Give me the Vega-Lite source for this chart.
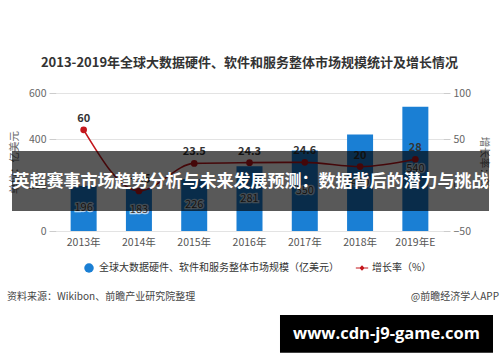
{
  "$schema": "https://vega.github.io/schema/vega-lite/v6.json",
  "width": 387,
  "height": 138,
  "autosize": {"type": "none"},
  "padding": {"left": 56, "top": 93, "right": 57, "bottom": 131},
  "background": "white",
  "title": {
    "text": "2013-2019年全球大数据硬件、软件和服务整体市场规模统计及增长情况",
    "fontSize": 13,
    "fontWeight": "bold",
    "color": "#333333",
    "font": "Noto Sans CJK SC",
    "anchor": "middle",
    "offset": 18
  },
  "datasets": {
    "main": [
      {"year": "2013年", "size": 196, "growth": 60},
      {"year": "2014年", "size": 183, "growth": -6.5},
      {"year": "2015年", "size": 226, "growth": 23.5},
      {"year": "2016年", "size": 281, "growth": 24.3},
      {"year": "2017年", "size": 350, "growth": 24.6},
      {"year": "2018年", "size": 420, "growth": 20},
      {"year": "2019年E", "size": 540, "growth": 28}
    ],
    "overlay": [
      {"kind": "bannerBox", "x": -0.1137, "x2": 1.1189, "y": 87, "y2": 348},
      {"kind": "markBox", "x": 0.5788, "x2": 1.1292, "y": -365, "y2": -529},
      {"kind": "bannerText", "x": 0.5026, "y": 213, "label": "英超赛事市场趋势分析与未来发展预测：数据背后的潜力与挑战"},
      {"kind": "markText", "x": 0.854, "y": -447, "label": "www.cdn-j9-game.com"},
      {"kind": "sourceL", "x": -0.1266, "y": -287, "label": "资料来源：Wikibon、前瞻产业研究院整理"},
      {"kind": "sourceR", "x": 1.1447, "y": -287, "label": "@前瞻经济学人APP"}
    ]
  },
  "layer": [
    {
      "data": {"name": "main"},
      "layer": [
        {
          "mark": {"type": "bar", "width": 26, "color": "#1a7fd4"},
          "encoding": {
            "x": {
              "field": "year", "type": "nominal", "sort": null,
              "axis": {"title": null, "labelAngle": 0, "ticks": false, "domain": false, "labelPadding": 6, "labelFontSize": 10.5, "labelColor": "#555555", "labelFont": "Noto Sans CJK SC"}
            },
            "y": {
              "field": "size", "type": "quantitative",
              "scale": {"domain": [0, 600], "nice": false},
              "axis": {"orient": "left", "values": [0, 200, 400, 600], "grid": true, "gridColor": "#e3e3e3", "domain": false, "tickSize": 7, "tickColor": "#cccccc", "labelColor": "#666666", "labelFontSize": 10.5, "labelPadding": 3, "title": "单位：亿美元", "titleFont": "Noto Sans CJK SC", "titleFontSize": 10.5, "titleFontWeight": "normal", "titleColor": "#666666", "titlePadding": 9}
            },
            "color": {
              "datum": "全球大数据硬件、软件和服务整体市场规模（亿美元）",
              "scale": {"domain": ["全球大数据硬件、软件和服务整体市场规模（亿美元）", "增长率（%）"], "range": ["#1a7fd4", "#c4161c"]},
              "legend": {
                "title": null, "orient": "none", "direction": "horizontal", "legendX": 28, "legendY": 170,
                "symbolType": "circle", "symbolSize": 90, "symbolStrokeWidth": 0,
                "labelFontSize": 10, "labelColor": "#333333", "labelFont": "Noto Sans CJK SC", "labelLimit": 400, "columnPadding": 16, "labelOffset": 5,
                "encode": {"symbols": {"update": {"shape": {"signal": "datum.value === '增长率（%）' ? 'M-1.3,-0.12H-0.45L0,-0.6L0.45,-0.12H1.3V0.12H0.45L0,0.6L-0.45,0.12H-1.3Z' : 'circle'"}}}}
              }
            }
          }
        },
        {
          "mark": {"type": "text", "fontSize": 11, "stroke": "white", "strokeWidth": 2.5, "strokeOpacity": 0.7, "fill": "white", "baseline": "middle"},
          "encoding": {
            "x": {"field": "year", "type": "nominal", "sort": null},
            "y": {"field": "size", "type": "quantitative", "scale": {"domain": [0, 1200], "nice": false}, "axis": null},
            "text": {"field": "size", "type": "quantitative"}
          }
        },
        {
          "mark": {"type": "text", "fontSize": 11, "color": "#333333", "baseline": "middle"},
          "encoding": {
            "x": {"field": "year", "type": "nominal", "sort": null},
            "y": {"field": "size", "type": "quantitative", "scale": {"domain": [0, 1200], "nice": false}, "axis": null},
            "text": {"field": "size", "type": "quantitative"}
          }
        },
        {
          "layer": [
            {
              "mark": {"type": "line", "color": "#a31b2a", "strokeWidth": 1.6, "interpolate": "monotone"},
              "encoding": {"color": {"datum": "增长率（%）"}}
            },
            {
              "mark": {"type": "point", "filled": true, "size": 45, "opacity": 1},
              "encoding": {"color": {"datum": "增长率（%）"}}
            },
            {
              "mark": {"type": "text", "dy": -11, "fontSize": 11, "fontWeight": "bold", "color": "#333333"},
              "encoding": {"text": {"field": "growth", "type": "quantitative"}}
            }
          ],
          "encoding": {
            "x": {"field": "year", "type": "nominal", "sort": null},
            "y": {
              "field": "growth", "type": "quantitative",
              "scale": {"domain": [-50, 100], "nice": false},
              "axis": {"orient": "right", "values": [-50, 0, 50, 100], "grid": false, "domain": false, "tickSize": 7, "tickColor": "#cccccc", "labelColor": "#666666", "labelFontSize": 10.5, "labelPadding": 3, "title": "增长率：%", "titleAngle": 90, "titleFont": "Noto Sans CJK SC", "titleFontSize": 10.5, "titleFontWeight": "normal", "titleColor": "#666666", "titlePadding": 8}
            }
          }
        }
      ],
      "resolve": {"scale": {"y": "independent"}}
    },
    {
      "data": {"name": "overlay"},
      "encoding": {
        "x": {"field": "x", "type": "quantitative", "scale": {"domain": [0, 1], "nice": false, "zero": false}, "axis": null},
        "y": {"field": "y", "type": "quantitative", "scale": {"domain": [0, 600], "nice": false, "zero": false}, "axis": null}
      },
      "layer": [
        {
          "transform": [{"filter": "datum.kind === 'bannerBox'"}],
          "mark": {"type": "rect", "fill": "black", "fillOpacity": 0.65},
          "encoding": {"x2": {"field": "x2"}, "y2": {"field": "y2"}}
        },
        {
          "transform": [{"filter": "datum.kind === 'markBox'"}],
          "mark": {"type": "rect", "fill": "black"},
          "encoding": {"x2": {"field": "x2"}, "y2": {"field": "y2"}}
        },
        {
          "transform": [{"filter": "datum.kind === 'bannerText'"}],
          "mark": {"type": "text", "fontSize": 17, "fontWeight": "bold", "color": "white", "font": "Noto Sans CJK SC", "align": "center", "baseline": "middle"},
          "encoding": {"text": {"field": "label"}}
        },
        {
          "transform": [{"filter": "datum.kind === 'markText'"}],
          "mark": {"type": "text", "fontSize": 16.5, "fontWeight": "bold", "color": "white", "font": "Open Sans", "align": "center", "baseline": "middle"},
          "encoding": {"text": {"field": "label"}}
        },
        {
          "transform": [{"filter": "datum.kind === 'sourceL'"}],
          "mark": {"type": "text", "fontSize": 10, "color": "#444444", "font": "Noto Sans CJK SC", "align": "left", "baseline": "middle"},
          "encoding": {"text": {"field": "label"}}
        },
        {
          "transform": [{"filter": "datum.kind === 'sourceR'"}],
          "mark": {"type": "text", "fontSize": 10, "color": "#444444", "font": "Noto Sans CJK SC", "align": "right", "baseline": "middle"},
          "encoding": {"text": {"field": "label"}}
        }
      ]
    }
  ],
  "resolve": {"scale": {"x": "independent", "y": "independent"}},
  "config": {
    "view": {"stroke": null},
    "font": "Noto Sans CJK SC",
    "axis": {"labelFont": "Noto Sans CJK SC"}
  }
}
